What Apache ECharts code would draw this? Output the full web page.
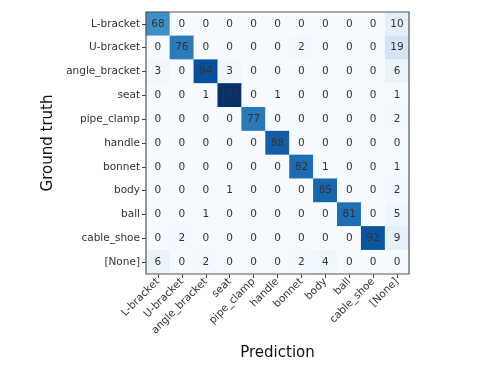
<!DOCTYPE html>
<html>
<head>
<meta charset="utf-8">
<script src="https://cdn.jsdelivr.net/npm/echarts@6/dist/echarts.min.js"></script>
<style>
  html, body { margin: 0; padding: 0; background: #fff; }
  #chart { width: 500px; height: 375px; }
</style>
</head>
<body>
<div id="chart"></div>
<script>
// class names, same order on both axes
const classes = ["L-bracket", "U-bracket", "angle_bracket", "seat", "pipe_clamp",
  "handle", "bonnet", "body", "ball", "cable_shoe", "[None]"];

// rows = ground truth, columns = prediction
const rowLBracket     = [68, 0, 0, 0, 0, 0, 0, 0, 0, 0, 10];
const rowUBracket     = [0, 76, 0, 0, 0, 0, 2, 0, 0, 0, 19];
const rowAngleBracket = [3, 0, 94, 3, 0, 0, 0, 0, 0, 0, 6];
const rowSeat         = [0, 0, 1, 107, 0, 1, 0, 0, 0, 0, 1];
const rowPipeClamp    = [0, 0, 0, 0, 77, 0, 0, 0, 0, 0, 2];
const rowHandle       = [0, 0, 0, 0, 0, 88, 0, 0, 0, 0, 0];
const rowBonnet       = [0, 0, 0, 0, 0, 0, 82, 1, 0, 0, 1];
const rowBody         = [0, 0, 0, 1, 0, 0, 0, 85, 0, 0, 2];
const rowBall         = [0, 0, 1, 0, 0, 0, 0, 0, 81, 0, 5];
const rowCableShoe    = [0, 2, 0, 0, 0, 0, 0, 0, 0, 92, 9];
const rowNone         = [6, 0, 2, 0, 0, 0, 2, 4, 0, 0, 0];

const rows = [rowLBracket, rowUBracket, rowAngleBracket, rowSeat, rowPipeClamp,
  rowHandle, rowBonnet, rowBody, rowBall, rowCableShoe, rowNone];

// matplotlib "Blues"
const blues = ["#f7fbff", "#deebf7", "#c6dbef", "#9ecae1", "#6baed6",
  "#4292c6", "#2171b5", "#08519c", "#08306b"];

const cells = [];
rows.forEach((row, r) => {
  row.forEach((v, c) => cells.push([c, r, v]));
});
const maxVal = Math.max(...cells.map(d => d[2]));

const chart = echarts.init(document.getElementById("chart"), null, { renderer: "canvas" });
const font = "DejaVu Sans";

const option = {
  animation: false,
  textStyle: { fontFamily: font },
  grid: {
    left: 146, top: 12, width: 263, height: 262,
    show: true, borderColor: "#555", borderWidth: 1.2, backgroundColor: "transparent", z: 10
  },
  xAxis: {
    type: "category",
    data: classes,
    name: "Prediction",
    nameLocation: "middle",
    nameGap: 72,
    nameTextStyle: { fontSize: 15, color: "#111", fontFamily: font },
    axisLine: { show: false },
    axisTick: { show: true, alignWithLabel: true, length: 4, lineStyle: { color: "#444" } },
    axisLabel: { rotate: 45, fontSize: 10.5, color: "#333", fontFamily: font, interval: 0, margin: 6 },
    splitLine: { show: false }
  },
  yAxis: {
    type: "category",
    data: classes,
    inverse: true,
    name: "Ground truth",
    nameLocation: "middle",
    nameGap: 85,
    nameRotate: 90,
    nameTextStyle: { fontSize: 15, color: "#111", fontFamily: font },
    axisLine: { show: false },
    axisTick: { show: true, alignWithLabel: true, length: 4, lineStyle: { color: "#444" } },
    axisLabel: { fontSize: 10.5, color: "#333", fontFamily: font, interval: 0, margin: 6 },
    splitLine: { show: false }
  },
  visualMap: {
    show: false,
    min: 0,
    max: maxVal,
    dimension: 2,
    inRange: { color: blues }
  },
  series: [{
    type: "heatmap",
    data: cells,
    itemStyle: { borderWidth: 0 },
    label: {
      show: true,
      fontSize: 10.5,
      fontFamily: font,
      color: "#333",
      formatter: p => p.value[2]
    },
    emphasis: { disabled: true }
  }]
};

chart.setOption(option);
</script>
</body>
</html>
